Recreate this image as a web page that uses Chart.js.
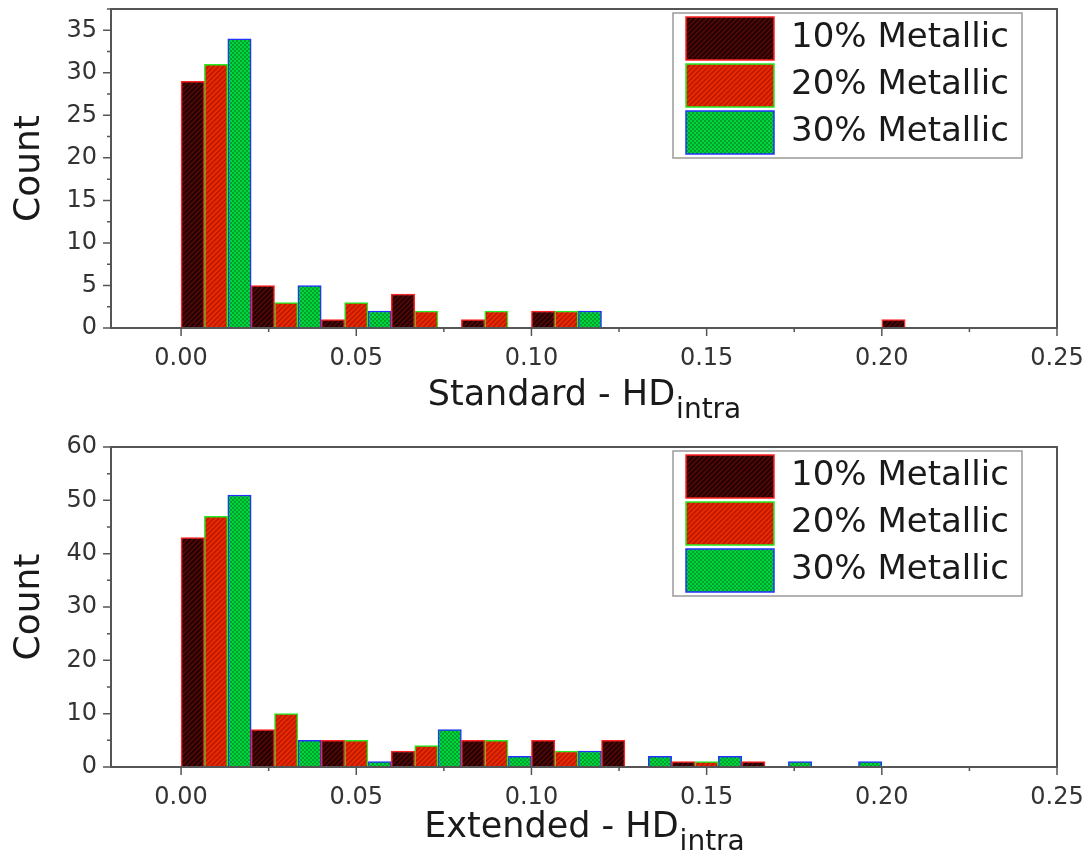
<!DOCTYPE html>
<html>
<head>
<meta charset="utf-8">
<script src="https://cdn.jsdelivr.net/npm/chart.js@4.4.1/dist/chart.umd.min.js"></script>
<style>
  body { margin: 0; background: #fff; }
  .box { position: relative; width: 1086px; height: 427px; }
</style>
</head>
<body>
<div class="box"><canvas id="standard"></canvas></div>
<div class="box"><canvas id="extended"></canvas></div>
<script>
const seriesNames = ["10% Metallic", "20% Metallic", "30% Metallic"]

// histogram bin centres, bins are 0.02 wide
const standardBins = [0.01, 0.03, 0.05, 0.07, 0.09, 0.11, 0.13, 0.15, 0.17, 0.19, 0.21]
const standard10 = [29, 5, 1, 4, 1, 2, 0, 0, 0, 0, 1]
const standard20 = [31, 3, 3, 2, 2, 2, 0, 0, 0, 0, 0]
const standard30 = [34, 5, 2, 0, 0, 2, 0, 0, 0, 0, 0]

const extendedBins = [0.01, 0.03, 0.05, 0.07, 0.09, 0.11, 0.13, 0.15, 0.17, 0.19]
const extended10 = [43, 7, 5, 3, 5, 5, 5, 1, 1, 0]
const extended20 = [47, 10, 5, 4, 5, 3, 0, 1, 0, 0]
const extended30 = [51, 5, 1, 7, 2, 3, 2, 2, 1, 1]

const xTicks = [0, 0.05, 0.1, 0.15, 0.2, 0.25]
const standardYTicks = [0, 5, 10, 15, 20, 25, 30, 35]
const extendedYTicks = [0, 10, 20, 30, 40, 50, 60]

Chart.defaults.font.family = "'DejaVu Sans', sans-serif"
Chart.defaults.color = "#2a2a2a"

function hatch(bg, fg) {
  const c = document.createElement("canvas")
  c.width = 5; c.height = 5
  const g = c.getContext("2d")
  g.fillStyle = bg
  g.fillRect(0, 0, 5, 5)
  g.strokeStyle = fg
  g.lineWidth = 1.3
  g.beginPath()
  g.moveTo(0, 5); g.lineTo(5, 0)
  g.moveTo(-1, 1); g.lineTo(1, -1)
  g.moveTo(4, 6); g.lineTo(6, 4)
  g.stroke()
  return g.createPattern(c, "repeat")
}

function checker(bg, fg) {
  const c = document.createElement("canvas")
  c.width = 4; c.height = 4
  const g = c.getContext("2d")
  g.fillStyle = bg
  g.fillRect(0, 0, 4, 4)
  g.fillStyle = fg
  g.fillRect(0, 0, 2, 2)
  g.fillRect(2, 2, 2, 2)
  return g.createPattern(c, "repeat")
}

const fills = [hatch("#220000", "#5e0a0a"), hatch("#e82a00", "#b41600"), checker("#00d63e", "#00a02c")]
const borders = ["#ff2222", "#22ee22", "#2233ff"]

function makeDatasets(bins, s10, s20, s30) {
  return [s10, s20, s30].map((vals, i) => ({
    label: seriesNames[i],
    data: bins.map((b, j) => ({ x: b, y: vals[j] })),
    backgroundColor: fills[i],
    borderColor: borders[i],
    borderWidth: 1.5,
    categoryPercentage: 1,
    barPercentage: 1
  }))
}

// box round the chart area plus major/minor ticks
const frameAndTicks = {
  id: "frameAndTicks",
  afterDatasetsDraw(chart) {
    const { ctx, chartArea: a, scales } = chart
    const x = scales.x, y = scales.y
    ctx.save()
    ctx.strokeStyle = "#555"
    ctx.lineWidth = 2
    ctx.strokeRect(a.left, a.top, a.right - a.left, a.bottom - a.top)
    ctx.lineWidth = 1.5
    ctx.beginPath()
    const xs = x.ticks.map(t => t.value)
    xs.forEach((v, i) => {
      const px = x.getPixelForValue(v)
      ctx.moveTo(px, a.bottom); ctx.lineTo(px, a.bottom + 8)
      if (i < xs.length - 1) {
        const m = x.getPixelForValue((v + xs[i + 1]) / 2)
        ctx.moveTo(m, a.bottom); ctx.lineTo(m, a.bottom + 4)
      }
    })
    const ys = y.ticks.map(t => t.value)
    ys.forEach((v, i) => {
      const py = y.getPixelForValue(v)
      ctx.moveTo(a.left, py); ctx.lineTo(a.left - 8, py)
      const step = i < ys.length - 1 ? ys[i + 1] - v : v - ys[i - 1]
      if (v + step / 2 <= y.max) {
        const m = y.getPixelForValue(v + step / 2)
        ctx.moveTo(a.left, m); ctx.lineTo(a.left - 4, m)
      }
    })
    ctx.stroke()
    ctx.restore()
  }
}

// move the legend to the upper right and put a frame round it
const legendFrame = {
  id: "legendFrame",
  afterLayout(chart) {
    const lg = chart.legend
    const a = chart.chartArea
    const pad = lg.options.labels.padding
    const fx = a.right - 35 - 349
    const fy = a.top + 4
    lg.left = fx + 13 - pad
    lg.top = fy + 4 - pad
    lg.right = a.right
    lg.bottom = a.bottom
    chart.$legendFrame = { x: fx, y: fy, w: 349, h: 145 }
  },
  beforeDatasetsDraw(chart) {
    const f = chart.$legendFrame
    const ctx = chart.ctx
    ctx.save()
    ctx.strokeStyle = "#9a9a9a"
    ctx.lineWidth = 1.5
    ctx.strokeRect(f.x, f.y, f.w, f.h)
    ctx.restore()
  }
}

function makeChart(id, opts) {
  const titlePlugin = {
    id: "xTitle",
    afterDraw(chart) {
      const { ctx, chartArea: a } = chart
      const mainFont = "35px 'DejaVu Sans', sans-serif"
      const subFont = "28px 'DejaVu Sans', sans-serif"
      ctx.save()
      ctx.font = mainFont
      const w1 = ctx.measureText(opts.title).width
      ctx.font = subFont
      const w2 = ctx.measureText("intra").width
      const x0 = (a.left + a.right) / 2 - (w1 + w2) / 2
      const base = a.bottom + opts.titleDrop
      ctx.fillStyle = "#1a1a1a"
      ctx.textAlign = "left"
      ctx.textBaseline = "alphabetic"
      ctx.font = mainFont
      ctx.fillText(opts.title, x0, base)
      ctx.font = subFont
      ctx.fillText("intra", x0 + w1 + 1, base + 13)
      ctx.restore()
    }
  }

  return new Chart(document.getElementById(id), {
    type: "bar",
    data: { datasets: makeDatasets(opts.bins, opts.s10, opts.s20, opts.s30) },
    options: {
      responsive: true,
      maintainAspectRatio: false,
      animation: false,
      layout: { padding: { left: 0, right: 29, top: opts.top, bottom: 0 } },
      plugins: {
        legend: {
          position: "chartArea",
          align: "start",
          labels: {
            boxWidth: 88,
            boxHeight: 43,
            padding: 4,
            color: "#1a1a1a",
            font: { size: 34 }
          }
        },
        tooltip: { enabled: false }
      },
      scales: {
        x: {
          type: "linear",
          offset: false,
          min: -0.02,
          max: 0.25,
          grid: { display: false, drawTicks: false },
          border: { display: false },
          afterBuildTicks: s => { s.ticks = xTicks.map(v => ({ value: v })) },
          afterFit: s => { s.height = opts.xHeight; s.paddingLeft = 0; s.paddingRight = 0 },
          ticks: {
            padding: 16,
            font: { size: 24 },
            color: "#333",
            maxRotation: 0,
            callback: v => v.toFixed(2)
          }
        },
        y: {
          min: 0,
          max: opts.yMax,
          grid: { display: false, drawTicks: false },
          border: { display: false },
          afterBuildTicks: s => { s.ticks = opts.yTicks.map(v => ({ value: v })) },
          afterFit: s => { s.width = 111; s.paddingTop = 0; s.paddingBottom = 0 },
          ticks: {
            padding: 14,
            font: { size: 24 },
            color: "#333",
            callback: v => String(v)
          },
          title: {
            display: true,
            text: "Count",
            color: "#1a1a1a",
            font: { size: 36 },
            padding: { top: 8, bottom: 0 }
          }
        }
      }
    },
    plugins: [frameAndTicks, legendFrame, titlePlugin]
  })
}

makeChart("standard", {
  bins: standardBins, s10: standard10, s20: standard20, s30: standard30,
  yMax: 37.5, yTicks: standardYTicks,
  top: 9, xHeight: 99, titleDrop: 77,
  title: "Standard - HD"
})

makeChart("extended", {
  bins: extendedBins, s10: extended10, s20: extended20, s30: extended30,
  yMax: 60, yTicks: extendedYTicks,
  top: 20, xHeight: 87, titleDrop: 70,
  title: "Extended - HD"
})
</script>
</body>
</html>
